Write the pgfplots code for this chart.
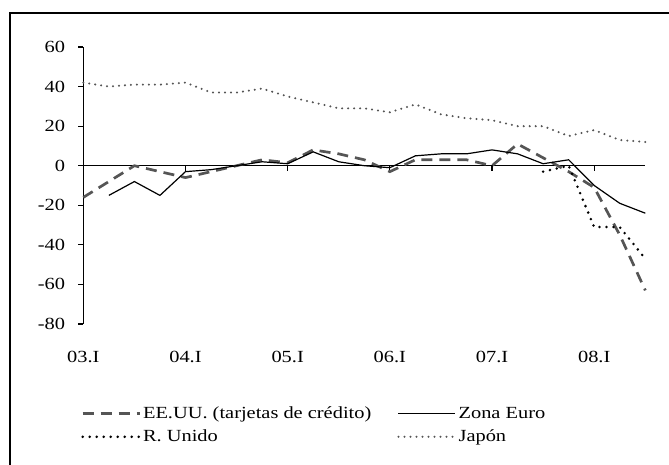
\documentclass[border=0pt]{standalone}
\usepackage{pgfplots}
\pgfplotsset{compat=1.18}
\usepackage{fontspec}
\setmainfont[FakeStretch=1.2]{Liberation Serif}
\definecolor{dgray}{HTML}{555555}
\begin{document}
\begin{tikzpicture}
\useasboundingbox (0bp,0bp) rectangle (669bp,465bp);
\draw[line width=1.6bp] (10bp,-10bp) -- (10bp,452bp) -- (680bp,452bp);
\begin{axis}[
 at={(83.3bp,141bp)}, anchor=south west,
 scale only axis, width=562bp, height=277bp,
 xmin=0, xmax=22, ymin=-80, ymax=60,
 axis x line=middle, axis y line=left,
 hide obscured x ticks=false,
 axis line style={-, line width=1.1bp},
 xtick={0,4,8,12,16,20}, xticklabels={03.I,04.I,05.I,06.I,07.I,08.I},
 ytick={-80,-60,-40,-20,0,20,40,60}, yticklabels={-80,-60,-40,-20,0,20,40,60},
 tick align=outside, major tick length=5bp, tick style={black, line width=1.1bp},
 xticklabel style={anchor=center, inner sep=0pt, yshift=-186bp},
 yticklabel style={anchor=east, inner sep=0pt, xshift=-13bp},
 every tick label/.append style={font=\fontsize{17bp}{20bp}\selectfont},
 clip=false,
 legend columns=2,
 legend cell align=left,
 legend style={draw=none, fill=none, at={(-0.004,-0.291)}, anchor=north west, inner sep=0pt,
   font=\fontsize{17bp}{20bp}\selectfont, row sep=6bp},
 legend image code/.code={\draw[#1] (0bp,0bp) -- (57bp,0bp);},
]
\addplot[dgray, line width=2.7bp, dash pattern=on 11bp off 7bp] coordinates {
(0,-16)(1,-8)(2,0)(3,-3)(4,-6)(5,-3)(6,0)(7,3)(8,1.5)(9,8)(10,6)(11,3)(12,-3)(13,3)(14,3)(15,3)(16,0)(17,11)(18,4)(19,-3)(20,-11)(21,-35)(22,-63)};
\addlegendentry{EE.UU. (tarjetas de crédito)\rule{24bp}{0pt}}
\addplot[black, line width=1.2bp] coordinates {
(1,-15)(2,-8)(3,-15)(4,-3)(5,-2)(6,0)(7,2)(8,1)(9,7)(10,2)(11,0)(12,-1)(13,5)(14,6)(15,6)(16,8)(17,6)(18,1)(19,3)(20,-10)(21,-19)(22,-24)};
\addlegendentry{Zona Euro}
\addplot[black, line width=2.8bp, line cap=round, dash pattern=on 0bp off 7bp] coordinates {
(18,-3)(19,0)(20,-31)(21,-31)(22,-47)};
\addlegendentry{R. Unido}
\addplot[dgray, line width=2.3bp, line cap=round, dash pattern=on 0bp off 6bp] coordinates {
(0,42)(1,40)(2,41)(3,41)(4,42)(5,37)(6,37)(7,39)(8,35)(9,32)(10,29)(11,29)(12,27)(13,31)(14,26)(15,24)(16,23)(17,20)(18,20)(19,15)(20,18)(21,13)(22,12)};
\addlegendentry{Japón}
\end{axis}
\end{tikzpicture}
\end{document}
